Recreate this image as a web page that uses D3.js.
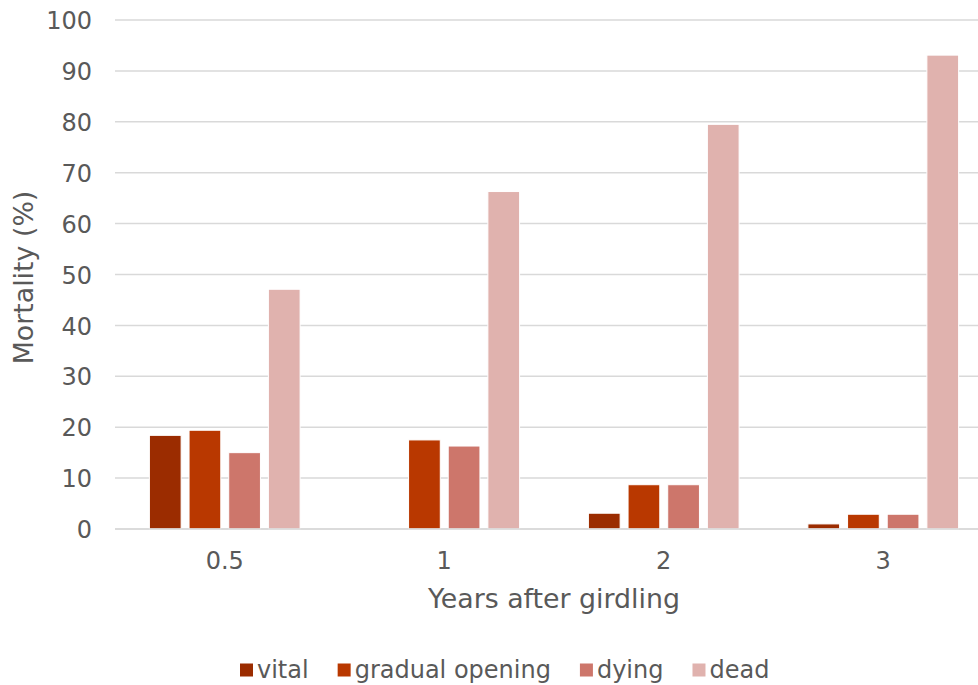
<!DOCTYPE html>
<html>
<head>
<meta charset="utf-8">
<script src="https://cdn.jsdelivr.net/npm/d3@7"></script>
<style>
  html, body { margin: 0; padding: 0; background: #fff; overflow: hidden; }
  svg { display: block; }
  text { font-family: "DejaVu Sans", Verdana, sans-serif; fill: #595959; }
</style>
</head>
<body>
<div id="chart"></div>
<script>
// Years after girdling (category axis)
const years = ["0.5", "1", "2", "3"];
// Crown condition classes
const seriesNames = ["vital", "gradual opening", "dying", "dead"];
const seriesColors = ["#9b2c00", "#b93800", "#cd766b", "#e0b2ae"];
// Mortality (%) per class, one value per year
const vital = [18.4, 0, 3.1, 1.0];
const gradualOpening = [19.4, 17.5, 8.7, 2.9];
const dying = [15.0, 16.3, 8.7, 2.9];
const dead = [47.1, 66.3, 79.5, 93.1];
const yTicks = [0, 10, 20, 30, 40, 50, 60, 70, 80, 90, 100];

const seriesValues = [vital, gradualOpening, dying, dead];

const width = 978, height = 685;
const margin = { left: 115, right: -15, top: 20, bottom: 156 };
const plotW = width - margin.left - margin.right;
const plotH = height - margin.top - margin.bottom;
const tickFont = 24, titleFont = 26.8, legendFont = 24;

const svg = d3.select("#chart").append("svg")
  .attr("width", width).attr("height", height);

const x0 = d3.scaleBand().domain(years)
  .range([margin.left, margin.left + plotW])
  .paddingInner(0.3134).paddingOuter(0.1567);
const x1 = d3.scaleBand().domain(seriesNames)
  .range([0, x0.bandwidth()])
  .paddingInner(0.2).paddingOuter(0);
const y = d3.scaleLinear().domain([0, 100]).range([margin.top + plotH, margin.top]);

// Horizontal gridlines
svg.append("g").selectAll("line").data(yTicks).join("line")
  .attr("x1", margin.left).attr("x2", margin.left + plotW)
  .attr("y1", d => y(d)).attr("y2", d => y(d))
  .attr("stroke", "#d9d9d9").attr("stroke-width", 1.5);

// Y tick labels
const yAxis = d3.axisLeft(y).tickValues(yTicks).tickSize(0).tickPadding(0);
const gy = svg.append("g").attr("transform", `translate(${margin.left - 23},0)`).call(yAxis);
gy.select(".domain").remove();
gy.selectAll("text").attr("font-size", tickFont).attr("fill", "#595959")
  .style("font-family", "'DejaVu Sans', Verdana, sans-serif").attr("dy", "0.36em");

// Bars
const rows = years.map((yr, i) => ({ yr, vals: seriesNames.map((s, j) => ({ s, j, v: seriesValues[j][i] })) }));
svg.append("g").selectAll("g").data(rows).join("g")
  .attr("transform", d => `translate(${x0(d.yr)},0)`)
  .selectAll("rect").data(d => d.vals.filter(e => e.v > 0)).join("rect")
  .attr("x", d => x1(d.s))
  .attr("width", x1.bandwidth())
  .attr("y", d => y(d.v))
  .attr("height", d => y(0) - y(d.v))
  .attr("fill", d => seriesColors[d.j])
  .attr("stroke", "#ffffff").attr("stroke-width", 1);

// Baseline on top of bars
svg.append("line")
  .attr("x1", margin.left).attr("x2", margin.left + plotW)
  .attr("y1", y(0)).attr("y2", y(0))
  .attr("stroke", "#d9d9d9").attr("stroke-width", 1.5);

// X tick labels
const xAxis = d3.axisBottom(x0).tickSize(0).tickPadding(0);
const gx = svg.append("g").attr("transform", `translate(0,${y(0) + 31})`).call(xAxis);
gx.select(".domain").remove();
gx.selectAll("text").attr("font-size", tickFont).attr("fill", "#595959")
  .style("font-family", "'DejaVu Sans', Verdana, sans-serif").attr("dy", "0.36em");

// Axis titles
svg.append("text")
  .attr("x", margin.left + plotW / 2).attr("y", 608)
  .attr("text-anchor", "middle").attr("font-size", titleFont)
  .text("Years after girdling");
svg.append("text")
  .attr("transform", `translate(33,${y(50) + 3}) rotate(-90)`)
  .attr("text-anchor", "middle").attr("font-size", titleFont)
  .text("Mortality (%)");

// Legend: swatch + label, items laid out left to right
const swatch = 13, swatchGap = 4, itemGap = 29;
const legend = svg.append("g").attr("transform", "translate(240,670)");
let cx = 0;
seriesNames.forEach((name, i) => {
  const item = legend.append("g").attr("transform", `translate(${cx},0)`);
  item.append("rect").attr("width", swatch).attr("height", swatch).attr("y", -swatch / 2)
    .attr("fill", seriesColors[i]);
  const t = item.append("text").attr("x", swatch + swatchGap).attr("y", 0).attr("dy", "0.35em")
    .attr("font-size", legendFont).text(name);
  cx += swatch + swatchGap + t.node().getComputedTextLength() + itemGap;
});
</script>
</body>
</html>
